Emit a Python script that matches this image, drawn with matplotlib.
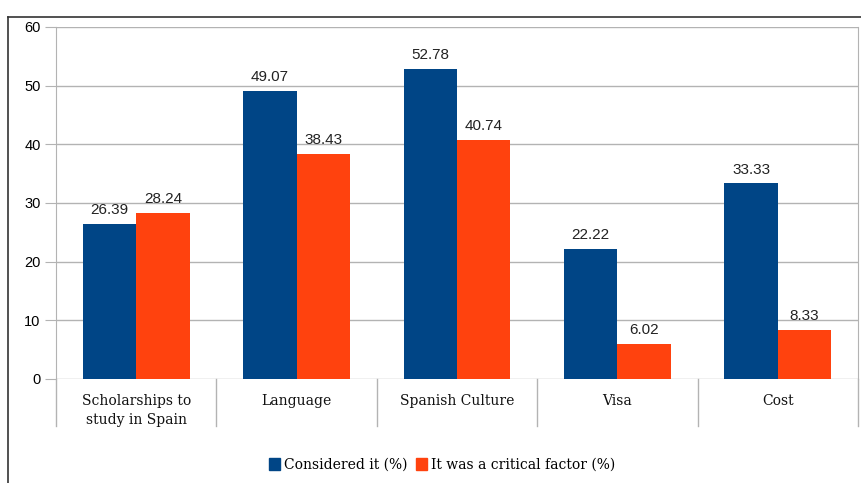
import numpy as np
import matplotlib
matplotlib.use("Agg")
import matplotlib.pyplot as plt
from matplotlib.lines import Line2D

categories = ["Scholarships to\nstudy in Spain", "Language", "Spanish Culture", "Visa", "Cost"]
considered = [26.39, 49.07, 52.78, 22.22, 33.33]
critical = [28.24, 38.43, 40.74, 6.02, 8.33]
series_names = ["Considered it (%)", "It was a critical factor (%)"]
yticks = [0, 10, 20, 30, 40, 50, 60]

BLUE = "#004586"
ORANGE = "#ff420e"
GRID = "#b3b3b3"

W, H = 862, 483
fig = plt.figure(figsize=(W / 100, H / 100), dpi=100)
ax = fig.add_axes([56 / W, 1 - 379 / H, (858 - 56) / W, (379 - 27) / H])

x = np.arange(len(categories))
bw = 1 / 3
b1 = ax.bar(x - bw / 2, considered, bw, color=BLUE, zorder=3)
b2 = ax.bar(x + bw / 2, critical, bw, color=ORANGE, zorder=3)

for bars, vals in ((b1, considered), (b2, critical)):
    for r, v in zip(bars, vals):
        ax.annotate(f"{v:.2f}", (r.get_x() + r.get_width() / 2, v),
                    xytext=(0, 5), textcoords="offset points",
                    ha="center", va="bottom", fontsize=11,
                    family="Liberation Sans", color="#222222")

ax.set_xlim(-0.5, len(categories) - 0.5)
ax.set_ylim(0, 60)
ax.set_yticks(yticks)
ax.yaxis.grid(True, color=GRID, lw=1, zorder=0)
ax.tick_params(axis="y", length=8, color=GRID, pad=3, labelsize=10.5)
for t in ax.get_yticklabels():
    t.set_family("Liberation Sans")
ax.set_xticks([])
for s in ["top", "bottom"]:
    ax.spines[s].set_visible(False)
for s in ["left", "right"]:
    ax.spines[s].set_color(GRID)

# category separators extending below the axis
for b in np.arange(len(categories) + 1) - 0.5:
    ax.plot([b, b], [0, -8.0], color=GRID, lw=1, clip_on=False, zorder=1)
for i, c in enumerate(categories):
    ax.text(i, -2.6, c, ha="center", va="top", fontsize=10,
            family="DejaVu Serif", color="#111111", linespacing=1.4)

# outer frame
fig.add_artist(Line2D([8 / W, 1], [1 - 17 / H, 1 - 17 / H], color="#333333", lw=1.2))
fig.add_artist(Line2D([8 / W, 8 / W], [0, 1 - 17 / H], color="#333333", lw=1.2))

handles = [plt.Rectangle((0, 0), 1, 1, color=BLUE), plt.Rectangle((0, 0), 1, 1, color=ORANGE)]
fig.legend(handles, series_names, loc="center", bbox_to_anchor=(442 / W, 1 - 465 / H),
           ncol=2, frameon=False, handlelength=0.8, handleheight=0.9,
           handletextpad=0.3, columnspacing=0.6,
           prop={"family": "DejaVu Serif", "size": 10})

fig.savefig("out.png", dpi=100)
